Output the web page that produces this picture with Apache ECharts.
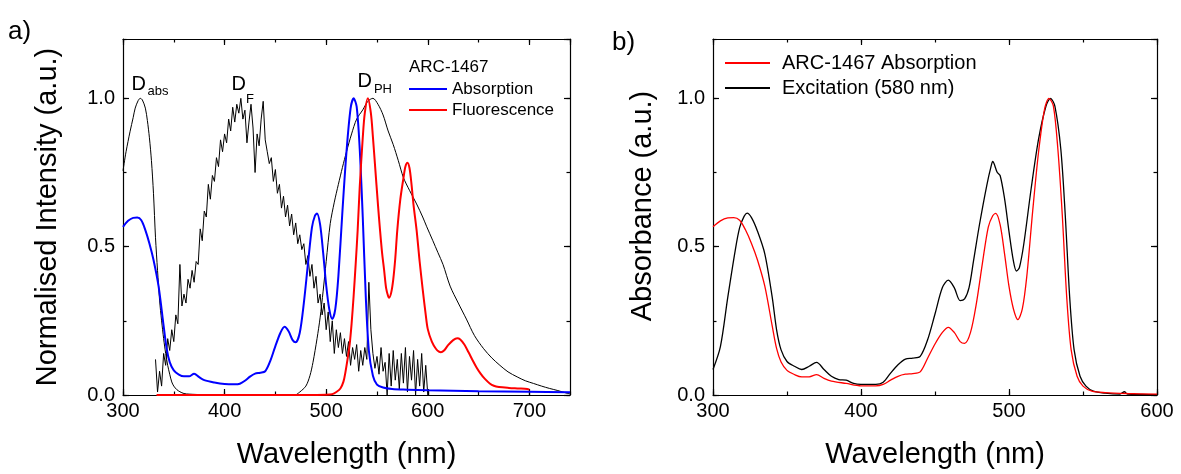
<!DOCTYPE html>
<html><head><meta charset="utf-8">
<script src="https://cdn.jsdelivr.net/npm/echarts@6/dist/echarts.min.js"></script>
<style>html,body{margin:0;padding:0;background:#fff}#c{width:1181px;height:474px}</style>
</head><body><div id="c"></div>
<script>
const FONT = '"Liberation Sans", Arial, sans-serif';

// ---------- Panel a) data ----------
const dAbsNm  = [300,303,307,310,312,315,317,319,322,324,326,328,330,332,334,336,338,340,342,344,346,348,350,353,356,360,365,380,420,470];
const dAbsVal = [0.756,0.82,0.889,0.935,0.967,0.993,1.0,0.995,0.967,0.925,0.867,0.79,0.68,0.53,0.42,0.32,0.25,0.19,0.14,0.1,0.07,0.044,0.03,0.018,0.011,0.005,0.003,0.001,0,0];

const dPhNm  = [470,474,480,484,487,491,494,497,500,504,508,512,516,520,525,530,536,541,546,551,556,561,566,571,576,582,589,595,599,605,610,615,622,630,638,646,655,663,671,679,688,696,704,712,720,728,737,740];
const dPhVal = [0,0.01,0.03,0.065,0.11,0.19,0.26,0.35,0.45,0.578,0.65,0.71,0.767,0.82,0.88,0.93,0.961,0.99,1.0,0.98,0.944,0.89,0.844,0.79,0.733,0.69,0.644,0.6,0.567,0.52,0.48,0.44,0.367,0.31,0.256,0.2,0.156,0.125,0.1,0.078,0.061,0.048,0.039,0.03,0.022,0.015,0.006,0.004];

const dFNm = [332,334,336,338,340,342,344,346,348,350,352,354,356,358,360,362,364,366,368,370,372,374,376,378,380,382,384,386,388,390,392,394,396,398,400,402,404,406,408,410,412,414,416,418,420,422,424,426,428,430,432,434,436,438,440,442,444,446,448,450,452,454,456,458,460,462,464,466,468,470,472,474,476,478,480,482,484,486,488,490,492,494,496,498,500,502,504,506,508,510,512,514,516,518,520,522,524,526,528,530,532,534,536,538,540,542,544,546,548,550,552,554,556,558,560,562,564,566,568,570,572,574,576,578,580,582,584,586,588,590,592,594,596,598,600];
const dFVal = [0.12,0.01,0.08,0.03,0.14,0.10,0.19,0.15,0.22,0.18,0.27,0.24,0.44,0.30,0.34,0.31,0.39,0.36,0.42,0.38,0.45,0.44,0.56,0.52,0.62,0.60,0.71,0.66,0.74,0.72,0.80,0.77,0.86,0.82,0.88,0.85,0.93,0.89,0.97,0.92,0.98,0.95,1.00,0.93,0.96,0.85,0.92,0.98,0.90,0.75,0.88,0.84,0.93,0.99,0.86,0.82,0.78,0.80,0.72,0.76,0.68,0.71,0.63,0.67,0.60,0.64,0.57,0.61,0.54,0.58,0.51,0.54,0.49,0.51,0.44,0.47,0.40,0.44,0.36,0.40,0.31,0.34,0.27,0.31,0.22,0.28,0.18,0.25,0.14,0.22,0.16,0.21,0.14,0.19,0.13,0.18,0.10,0.16,0.12,0.17,0.08,0.15,0.10,0.16,0.12,0.38,0.22,0.14,0.09,0.13,0.07,0.16,0.08,0.11,0.00,0.14,0.03,0.15,0.05,0.12,0.02,0.14,0.04,0.16,0.01,0.13,0.05,0.15,0.00,0.12,0.03,0.14,0.01,0.10,0.00];

const absANm  = [300,305,310,314,318,322,326,330,335,340,343,346,350,355,360,365,370,375,380,390,400,410,415,420,425,430,435,440,445,450,455,459,463,467,470,474,478,482,486,489,491,494,497,500,503,506,509,512,516,520,524,527,530,533,536,539,542,546,550,556,565,580,600,650,700,740];
const absAVal = [0.567,0.587,0.597,0.598,0.589,0.556,0.511,0.456,0.367,0.233,0.156,0.111,0.083,0.069,0.063,0.063,0.072,0.06,0.05,0.042,0.037,0.036,0.038,0.048,0.062,0.072,0.075,0.08,0.115,0.165,0.21,0.23,0.215,0.185,0.178,0.21,0.31,0.44,0.565,0.605,0.612,0.575,0.48,0.37,0.29,0.256,0.29,0.4,0.62,0.82,0.965,1.0,0.972,0.83,0.6,0.33,0.15,0.065,0.035,0.025,0.02,0.018,0.016,0.013,0.011,0.009];

const fluNm  = [333,400,480,500,506,510,514,517,519,521,523,525,527,529,531,533,536,538,541,544,546,548,551,553,555,557,559,561,562,564,566,568,570,573,576,578,580,582,584,586,589,592,595,598,600,604,608,611,613,616,620,625,629,632,636,640,644,648,652,656,661,665,670,680,690,698,700];
const fluVal = [0,0,0,0.001,0.003,0.01,0.022,0.045,0.078,0.12,0.167,0.24,0.333,0.44,0.556,0.7,0.867,0.95,1.0,0.95,0.87,0.778,0.64,0.556,0.48,0.422,0.36,0.333,0.328,0.345,0.389,0.46,0.556,0.66,0.73,0.77,0.783,0.765,0.71,0.64,0.556,0.45,0.356,0.27,0.222,0.18,0.156,0.146,0.144,0.15,0.168,0.185,0.191,0.187,0.17,0.145,0.118,0.093,0.072,0.055,0.039,0.031,0.027,0.024,0.022,0.02,0.018];

// ---------- Panel b) data ----------
const absBNm  = [300,305,310,314,318,322,326,330,335,340,343,346,350,355,360,365,370,375,380,390,400,410,415,420,425,430,435,440,445,450,455,459,463,467,470,474,478,482,486,489,491,494,497,500,503,506,509,512,516,520,524,527,530,533,536,539,542,546,550,556,565,580,600];
const absBVal = [0.567,0.587,0.597,0.598,0.589,0.556,0.511,0.456,0.367,0.233,0.156,0.111,0.083,0.069,0.061,0.061,0.069,0.056,0.047,0.039,0.031,0.031,0.036,0.05,0.063,0.07,0.072,0.078,0.124,0.172,0.211,0.228,0.211,0.18,0.174,0.211,0.31,0.443,0.566,0.604,0.612,0.574,0.476,0.366,0.29,0.254,0.29,0.399,0.62,0.82,0.963,1.0,0.974,0.83,0.607,0.33,0.152,0.063,0.03,0.013,0.008,0.005,0.003];

const excNm  = [300,305,310,315,318,321,323,326,330,335,340,343,346,350,355,360,365,370,375,380,385,390,395,400,410,415,420,425,430,435,440,445,450,455,459,463,467,470,473,476,480,485,488,489,492,494,497,500,503,505,507,510,515,520,525,528,531,535,538,541,544,548,552,557,565,575,578,580,590,600];
const excVal = [0.086,0.163,0.33,0.487,0.564,0.602,0.613,0.598,0.553,0.476,0.33,0.219,0.152,0.113,0.097,0.086,0.097,0.11,0.086,0.063,0.052,0.05,0.039,0.036,0.036,0.043,0.074,0.102,0.121,0.124,0.13,0.186,0.273,0.362,0.387,0.362,0.318,0.324,0.362,0.451,0.573,0.707,0.773,0.787,0.751,0.74,0.662,0.551,0.451,0.418,0.429,0.509,0.697,0.863,0.974,1.0,0.974,0.829,0.607,0.33,0.152,0.063,0.03,0.013,0.006,0.003,0.011,0.003,0.002,0.001];

const xTicksA = {min:300, max:740, major:100, minor:50};
const xTicksB = {min:300, max:600, major:100, minor:50};
const yTicks  = {min:0, max:1.2, major:0.5, minor:0.25};

function zip(xs, ys){ return xs.map((x,i)=>[x, ys[i]]); }

const AX = {color:'#000', width:1.2};
function xAx(grid, t, pos, major, name){
  return {type:'value', gridIndex:grid, position:pos, min:t.min, max:t.max,
    interval: major ? t.major : t.minor,
    axisLine:{show:major, onZero:false, lineStyle:AX},
    axisTick:{show:true, inside:true, length: major?6:3.5, lineStyle:AX},
    axisLabel:{show: major && pos==='bottom', margin:6, color:'#000', fontSize:20, fontFamily:FONT,
      showMaxLabel: (t.max % t.major)===0, showMinLabel:true},
    splitLine:{show:false},
    name: name||'', nameLocation:'middle', nameGap:45,
    nameTextStyle:{fontSize:29, fontFamily:FONT, color:'#000'}
  };
}
function yAx(grid, t, pos, major, name, gap, pad){
  return {type:'value', gridIndex:grid, position:pos, min:t.min, max:t.max,
    interval: major ? t.major : t.minor,
    axisLine:{show:major, onZero:false, lineStyle:AX},
    axisTick:{show:true, inside:true, length: major?6:3.5, lineStyle:AX},
    axisLabel:{show: major && pos==='left', margin:8, color:'#000', fontSize:20, fontFamily:FONT,
      showMaxLabel:false, formatter:v=>v.toFixed(1)},
    splitLine:{show:false},
    name: name||'', nameLocation:'middle', nameGap:gap||60, nameRotate:90,
    nameTextStyle:{fontSize:29, fontFamily:FONT, color:'#000', padding:pad||0}
  };
}

function lbl(x, y, text, size){
  return {coord:[x,y], symbol:'circle', symbolSize:0,
    label:{show:true, position:'right', distance:0, formatter:text, color:'#000', fontSize:size, fontFamily:FONT}};
}
const SM = {smooth:0.3};

const chart = echarts.init(document.getElementById('c'), null, {renderer:'canvas'});
chart.setOption({
  animation:false,
  backgroundColor:'#fff',
  title:[
    {text:'a)', left:8, top:19, padding:0, textStyle:{fontSize:26, fontWeight:'normal', fontFamily:FONT, color:'#000'}},
    {text:'b)', left:612, top:30, padding:0, textStyle:{fontSize:26, fontWeight:'normal', fontFamily:FONT, color:'#000'}},
    {text:'ARC-1467', left:409, top:59, padding:0, textStyle:{fontSize:17, fontWeight:'normal', fontFamily:FONT, color:'#000'}}
  ],
  legend:[
    {left:409, top:78.5, padding:0, orient:'vertical', itemWidth:38, itemHeight:2, itemGap:0, icon:'rect',
     data:['Absorption','Fluorescence'], selectedMode:false,
     textStyle:{fontSize:17, fontFamily:FONT, color:'#000', lineHeight:21}},
    {left:725, top:50.5, padding:0, orient:'vertical', itemWidth:45, itemHeight:2, itemGap:0, icon:'rect',
     data:['ARC-1467 Absorption','Excitation (580 nm)'], selectedMode:false,
     textStyle:{fontSize:20, fontFamily:FONT, color:'#000', lineHeight:25, padding:[0,0,0,7]}}
  ],
  grid:[
    {left:123, top:39, width:447, height:361, containLabel:false},
    {left:713, top:39, width:444, height:361, containLabel:false}
  ],
  xAxis:[
    xAx(0, xTicksA, 'bottom', true, 'Wavelength (nm)'),
    xAx(0, xTicksA, 'bottom', false),
    xAx(0, xTicksA, 'top', true),
    xAx(0, xTicksA, 'top', false),
    xAx(1, xTicksB, 'bottom', true, 'Wavelength (nm)'),
    xAx(1, xTicksB, 'bottom', false),
    xAx(1, xTicksB, 'top', true),
    xAx(1, xTicksB, 'top', false)
  ],
  yAxis:[
    yAx(0, yTicks, 'left', true, 'Normalised Intensity (a.u.)', 61),
    yAx(0, yTicks, 'left', false),
    yAx(0, yTicks, 'right', true),
    yAx(0, yTicks, 'right', false),
    yAx(1, yTicks, 'left', true, 'Absorbance (a.u.)', 56, [0,0,0,22]),
    yAx(1, yTicks, 'left', false),
    yAx(1, yTicks, 'right', true),
    yAx(1, yTicks, 'right', false)
  ],
  series:[
    Object.assign({name:'D_abs', type:'line', xAxisIndex:0, yAxisIndex:0, data:zip(dAbsNm,dAbsVal), showSymbol:false, symbol:'none',
     lineStyle:{color:'#000', width:1}, itemStyle:{color:'#000'}, z:2,
     markPoint:{silent:true, data:[
       lbl(308.4, 1.048, 'D', 20), lbl(324.1, 1.022, 'abs', 13),
       lbl(406.8, 1.046, 'D', 20), lbl(421.1, 0.996, 'F', 13),
       lbl(530.8, 1.058, 'D', 20), lbl(547.0, 1.029, 'PH', 13)
     ]}}, SM),
    Object.assign({name:'D_PH', type:'line', xAxisIndex:0, yAxisIndex:0, data:zip(dPhNm,dPhVal), showSymbol:false, symbol:'none',
     lineStyle:{color:'#000', width:1}, itemStyle:{color:'#000'}, z:2}, SM),
    {name:'D_F', type:'line', xAxisIndex:0, yAxisIndex:0, data:zip(dFNm,dFVal), showSymbol:false, symbol:'none',
     lineStyle:{color:'#000', width:1}, itemStyle:{color:'#000'}, z:2},
    Object.assign({name:'Absorption', type:'line', xAxisIndex:0, yAxisIndex:0, data:zip(absANm,absAVal), showSymbol:false, symbol:'none',
     lineStyle:{color:'#0000ff', width:2}, itemStyle:{color:'#0000ff'}, z:3}, SM),
    Object.assign({name:'Fluorescence', type:'line', xAxisIndex:0, yAxisIndex:0, data:zip(fluNm,fluVal), showSymbol:false, symbol:'none',
     lineStyle:{color:'#ff0000', width:2}, itemStyle:{color:'#ff0000'}, z:3}, SM),
    Object.assign({name:'ARC-1467 Absorption', type:'line', xAxisIndex:4, yAxisIndex:4, data:zip(absBNm,absBVal), showSymbol:false, symbol:'none',
     lineStyle:{color:'#ff0000', width:1.3}, itemStyle:{color:'#ff0000'}, z:3}, SM),
    Object.assign({name:'Excitation (580 nm)', type:'line', xAxisIndex:4, yAxisIndex:4, data:zip(excNm,excVal), showSymbol:false, symbol:'none',
     lineStyle:{color:'#000', width:1.3}, itemStyle:{color:'#000'}, z:2}, SM)
  ]
});
</script></body></html>
